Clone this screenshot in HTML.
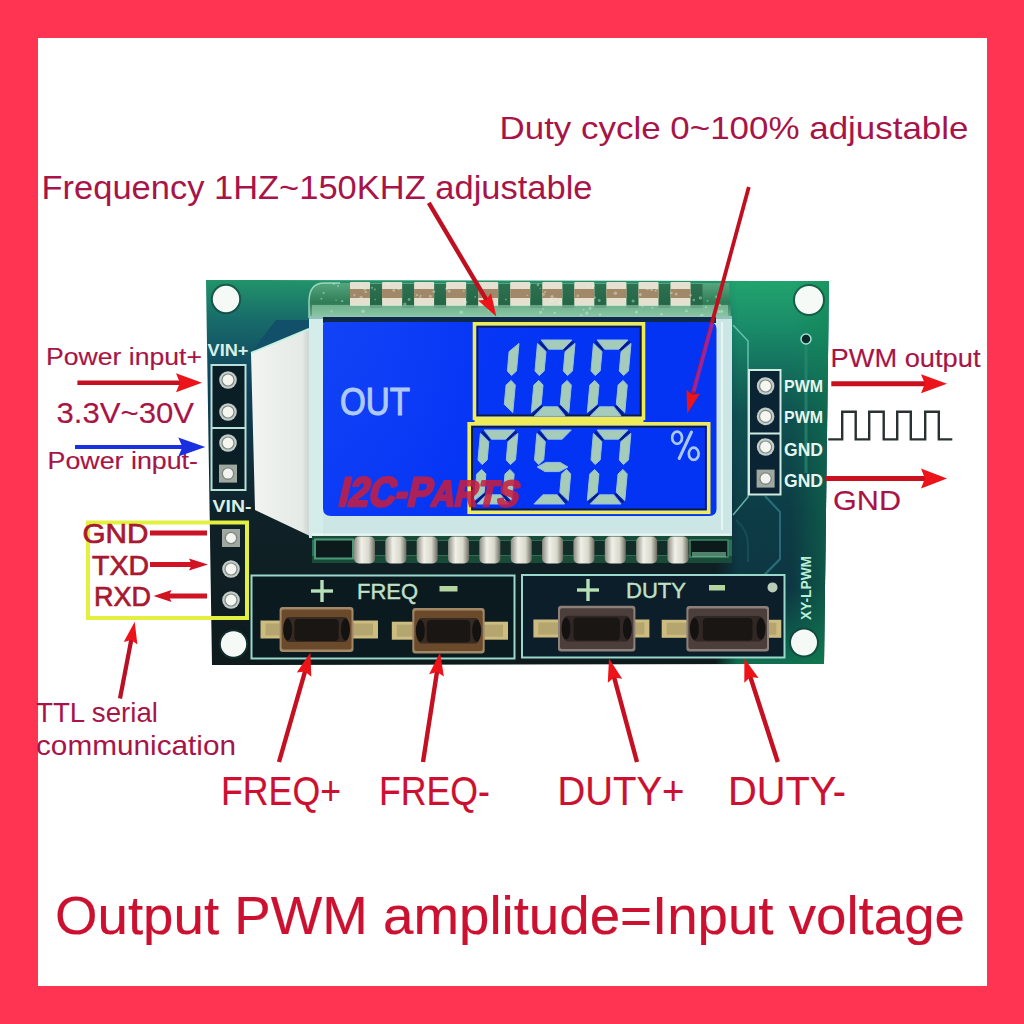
<!DOCTYPE html>
<html><head><meta charset="utf-8"><title>PWM module</title>
<style>html,body{margin:0;padding:0;background:#ff3352;} svg{display:block;} text{font-family:"Liberation Sans", sans-serif;}</style>
</head><body>
<svg width="1024" height="1024" viewBox="0 0 1024 1024">
<rect x="0" y="0" width="1024" height="1024" fill="#ff3352"/>
<rect x="38" y="38" width="949" height="948" fill="#ffffff"/>
<defs>
<linearGradient id="pcbv" x1="0" y1="280" x2="0" y2="665" gradientUnits="userSpaceOnUse">
 <stop offset="0" stop-color="#22946a"/>
 <stop offset="0.1" stop-color="#186c6a"/>
 <stop offset="0.25" stop-color="#10445e"/>
 <stop offset="0.6" stop-color="#0f2228"/>
 <stop offset="1" stop-color="#0e1a1c"/>
</linearGradient>
<linearGradient id="pcbr" x1="0" y1="280" x2="0" y2="665" gradientUnits="userSpaceOnUse">
 <stop offset="0" stop-color="#22a46e"/>
 <stop offset="0.13" stop-color="#198a68"/>
 <stop offset="0.35" stop-color="#0f5050"/>
 <stop offset="0.6" stop-color="#0d3c46"/>
 <stop offset="0.8" stop-color="#0d3642"/>
 <stop offset="0.93" stop-color="#0f5a4c"/>
 <stop offset="1" stop-color="#107050"/>
</linearGradient>
<linearGradient id="pcbedge" x1="790" y1="0" x2="829" y2="0" gradientUnits="userSpaceOnUse">
 <stop offset="0" stop-color="#10844e" stop-opacity="0"/>
 <stop offset="1" stop-color="#10844e" stop-opacity="0.45"/>
</linearGradient>
<linearGradient id="pcbrm" x1="715" y1="0" x2="829" y2="0" gradientUnits="userSpaceOnUse">
 <stop offset="0" stop-color="#000"/>
 <stop offset="0.2" stop-color="#fff"/>
 <stop offset="1" stop-color="#fff"/>
</linearGradient>
<mask id="rmask" maskUnits="userSpaceOnUse" x="0" y="0" width="1024" height="1024"><rect x="715" y="270" width="120" height="400" fill="url(#pcbrm)"/></mask>
<linearGradient id="guide" x1="251" y1="0" x2="324" y2="0" gradientUnits="userSpaceOnUse">
 <stop offset="0" stop-color="#f2f4f0"/>
 <stop offset="0.7" stop-color="#e4eae6"/>
 <stop offset="0.78" stop-color="#cfd8d4"/>
 <stop offset="1" stop-color="#d8e4e0"/>
</linearGradient>
<linearGradient id="glass" x1="0" y1="282" x2="0" y2="320" gradientUnits="userSpaceOnUse">
 <stop offset="0" stop-color="#58a880"/>
 <stop offset="0.55" stop-color="#2f7c56"/>
 <stop offset="1" stop-color="#78b894"/>
</linearGradient>
<linearGradient id="blue" x1="323" y1="0" x2="718" y2="0" gradientUnits="userSpaceOnUse">
 <stop offset="0" stop-color="#0838f4"/>
 <stop offset="0.4" stop-color="#0232f4"/>
 <stop offset="1" stop-color="#0434f2"/>
</linearGradient>
<radialGradient id="bluehl" cx="323" cy="322" r="260" gradientUnits="userSpaceOnUse">
 <stop offset="0" stop-color="#4070ff" stop-opacity="0.2"/>
 <stop offset="1" stop-color="#4070ff" stop-opacity="0"/>
</radialGradient>
<linearGradient id="pin" x1="0" y1="0" x2="1" y2="0">
 <stop offset="0" stop-color="#8a8a80"/>
 <stop offset="0.35" stop-color="#f0f0e8"/>
 <stop offset="0.7" stop-color="#d8d8cc"/>
 <stop offset="1" stop-color="#6a6a60"/>
</linearGradient>
</defs>
<polygon points="206,280 829,281 824,664 212,665" fill="url(#pcbv)"/>
<polygon points="715,281 829,281 824,664 715,664" fill="url(#pcbr)" mask="url(#rmask)"/>
<polygon points="790,281 829,281 824,664 790,664" fill="url(#pcbedge)"/>
<circle cx="226" cy="299" r="15.2" fill="#103a34" opacity="0.6"/><circle cx="226" cy="299" r="13.2" fill="#f6faf6"/>
<circle cx="809" cy="300" r="16" fill="#103a34" opacity="0.6"/><circle cx="809" cy="300" r="14" fill="#f6faf6"/>
<circle cx="233.5" cy="644" r="14.7" fill="#103a34" opacity="0.6"/><circle cx="233.5" cy="644" r="12.7" fill="#f6faf6"/>
<circle cx="804" cy="642.5" r="15" fill="#103a34" opacity="0.6"/><circle cx="804" cy="642.5" r="13" fill="#f6faf6"/>
<path d="M733,325 L748,341 L748,497 L733,515" fill="none" stroke="#7ad0c0" stroke-width="1.5" opacity="0.8"/>
<path d="M765,496 L780,512 L780,559 L750,589" fill="none" stroke="#2a7a78" stroke-width="2" opacity="0.8"/>
<path d="M806,340 L806,473" fill="none" stroke="#2a8a70" stroke-width="3" opacity="0.7"/>
<circle cx="806" cy="339" r="5" fill="#0c2a2a" stroke="#a0e0d0" stroke-width="1.5"/>
<path d="M765,496 L780,512 L780,559 L752,589" fill="none" stroke="#2a6a7a" stroke-width="2" opacity="0.6"/>
<path d="M736,520 Q748,530 748,545 L748,562" fill="none" stroke="#1a5a60" stroke-width="2" opacity="0.6"/>
<polygon points="276,320 312,320 312,328 252,352 262,338" fill="#12506a"/>
<polygon points="251,353 309,329 324,329 324,537 312,537 255,510" fill="url(#guide)"/>
<line x1="251" y1="353" x2="309" y2="329" stroke="#c8f0e0" stroke-width="2"/>
<path d="M309,302 Q309,283 324,283 L729,283 L731,318 L309,318 Z" fill="url(#glass)"/>
<path d="M309,318 L309,302 Q309,283 324,283 L340,283" fill="none" stroke="#b0e8d0" stroke-width="1.5" opacity="0.8"/>
<rect x="370.0" y="284" width="12" height="24" fill="#1f5c40" opacity="0.7"/>
<rect x="350.0" y="282" width="20" height="24" rx="1" fill="#e6e0d0"/>
<rect x="350.0" y="289" width="20" height="9" fill="#a08868"/>
<rect x="402.1" y="284" width="12" height="24" fill="#1f5c40" opacity="0.7"/>
<rect x="382.1" y="282" width="20" height="24" rx="1" fill="#e6e0d0"/>
<rect x="382.1" y="289" width="20" height="9" fill="#a08868"/>
<rect x="434.1" y="284" width="12" height="24" fill="#1f5c40" opacity="0.7"/>
<rect x="414.1" y="282" width="20" height="24" rx="1" fill="#e6e0d0"/>
<rect x="414.1" y="289" width="20" height="9" fill="#a08868"/>
<rect x="466.1" y="284" width="12" height="24" fill="#1f5c40" opacity="0.7"/>
<rect x="446.1" y="282" width="20" height="24" rx="1" fill="#e6e0d0"/>
<rect x="446.1" y="289" width="20" height="9" fill="#a08868"/>
<rect x="498.2" y="284" width="12" height="24" fill="#1f5c40" opacity="0.7"/>
<rect x="478.2" y="282" width="20" height="24" rx="1" fill="#e6e0d0"/>
<rect x="478.2" y="289" width="20" height="9" fill="#a08868"/>
<rect x="530.2" y="284" width="12" height="24" fill="#1f5c40" opacity="0.7"/>
<rect x="510.2" y="282" width="20" height="24" rx="1" fill="#e6e0d0"/>
<rect x="510.2" y="289" width="20" height="9" fill="#a08868"/>
<rect x="562.3" y="284" width="12" height="24" fill="#1f5c40" opacity="0.7"/>
<rect x="542.3" y="282" width="20" height="24" rx="1" fill="#e6e0d0"/>
<rect x="542.3" y="289" width="20" height="9" fill="#a08868"/>
<rect x="594.3" y="284" width="12" height="24" fill="#1f5c40" opacity="0.7"/>
<rect x="574.3" y="282" width="20" height="24" rx="1" fill="#e6e0d0"/>
<rect x="574.3" y="289" width="20" height="9" fill="#a08868"/>
<rect x="626.4" y="284" width="12" height="24" fill="#1f5c40" opacity="0.7"/>
<rect x="606.4" y="282" width="20" height="24" rx="1" fill="#e6e0d0"/>
<rect x="606.4" y="289" width="20" height="9" fill="#a08868"/>
<rect x="658.5" y="284" width="12" height="24" fill="#1f5c40" opacity="0.7"/>
<rect x="638.5" y="282" width="20" height="24" rx="1" fill="#e6e0d0"/>
<rect x="638.5" y="289" width="20" height="9" fill="#a08868"/>
<rect x="690.5" y="284" width="12" height="24" fill="#1f5c40" opacity="0.7"/>
<rect x="670.5" y="282" width="20" height="24" rx="1" fill="#e6e0d0"/>
<rect x="670.5" y="289" width="20" height="9" fill="#a08868"/>
<rect x="312" y="305" width="416" height="11" fill="#a8e0c0" opacity="0.5"/>
<g fill="#d8f8e0" opacity="0.4"><circle cx="446.7" cy="288.8" r="1.5"/><circle cx="342.1" cy="301.1" r="1.2"/><circle cx="336.1" cy="300.2" r="0.8"/><circle cx="492.4" cy="286.2" r="0.9"/><circle cx="488.6" cy="310.5" r="0.9"/><circle cx="404.9" cy="304.1" r="1.7"/><circle cx="552.1" cy="296.7" r="1.8"/><circle cx="331.4" cy="311.5" r="1.1"/><circle cx="372.0" cy="287.8" r="1.1"/><circle cx="651.5" cy="289.8" r="1.4"/><circle cx="577.8" cy="295.9" r="1.3"/><circle cx="338.1" cy="285.9" r="1.0"/><circle cx="595.0" cy="297.7" r="1.1"/><circle cx="555.6" cy="298.5" r="1.1"/><circle cx="642.5" cy="306.4" r="1.0"/><circle cx="551.0" cy="300.8" r="1.7"/><circle cx="615.4" cy="293.2" r="1.8"/><circle cx="361.1" cy="297.4" r="1.6"/><circle cx="375.2" cy="299.6" r="0.8"/><circle cx="590.0" cy="308.5" r="1.4"/><circle cx="676.2" cy="294.0" r="1.5"/><circle cx="559.3" cy="302.6" r="1.3"/><circle cx="661.4" cy="314.2" r="1.3"/><circle cx="588.3" cy="285.9" r="1.5"/><circle cx="581.2" cy="315.8" r="1.6"/><circle cx="430.4" cy="296.3" r="1.5"/><circle cx="321.4" cy="298.8" r="1.0"/><circle cx="360.7" cy="285.9" r="1.6"/><circle cx="365.8" cy="291.9" r="1.2"/><circle cx="674.5" cy="286.6" r="1.2"/><circle cx="540.6" cy="312.3" r="1.6"/><circle cx="671.4" cy="292.9" r="1.2"/><circle cx="461.2" cy="312.3" r="1.8"/><circle cx="374.8" cy="289.6" r="1.0"/><circle cx="409.1" cy="299.5" r="1.4"/><circle cx="421.3" cy="284.1" r="1.2"/><circle cx="465.6" cy="302.1" r="1.8"/><circle cx="599.2" cy="300.5" r="1.4"/><circle cx="593.3" cy="285.7" r="1.7"/><circle cx="636.5" cy="312.0" r="1.6"/><circle cx="475.2" cy="296.8" r="0.9"/><circle cx="575.9" cy="286.0" r="0.9"/><circle cx="398.8" cy="289.2" r="1.1"/><circle cx="333.9" cy="284.0" r="1.0"/><circle cx="354.2" cy="295.6" r="0.8"/><circle cx="675.7" cy="303.7" r="0.9"/><circle cx="416.9" cy="295.1" r="1.2"/><circle cx="363.1" cy="311.2" r="1.8"/><circle cx="505.9" cy="299.5" r="0.9"/><circle cx="354.5" cy="295.0" r="1.1"/><circle cx="656.8" cy="289.2" r="0.8"/><circle cx="707.6" cy="300.9" r="0.9"/><circle cx="538.0" cy="284.9" r="1.3"/><circle cx="719.1" cy="311.6" r="1.5"/><circle cx="420.6" cy="295.7" r="1.0"/><circle cx="633.1" cy="301.0" r="1.6"/><circle cx="449.1" cy="291.1" r="1.6"/><circle cx="721.7" cy="311.3" r="1.6"/><circle cx="652.4" cy="307.7" r="1.0"/><circle cx="527.3" cy="295.4" r="0.8"/><circle cx="323.6" cy="292.9" r="1.1"/><circle cx="600.1" cy="314.6" r="1.2"/><circle cx="701.8" cy="315.6" r="1.8"/><circle cx="463.7" cy="291.1" r="1.0"/><circle cx="393.8" cy="290.5" r="1.4"/><circle cx="686.5" cy="310.9" r="1.3"/><circle cx="583.6" cy="309.6" r="0.9"/><circle cx="586.8" cy="313.1" r="1.6"/><circle cx="624.1" cy="299.3" r="1.0"/><circle cx="640.3" cy="294.6" r="1.6"/><circle cx="716.2" cy="296.7" r="1.2"/><circle cx="705.9" cy="307.2" r="1.0"/><circle cx="364.8" cy="288.8" r="1.7"/><circle cx="647.5" cy="288.7" r="1.6"/><circle cx="719.8" cy="305.0" r="1.2"/><circle cx="540.2" cy="288.2" r="0.8"/><circle cx="715.9" cy="304.8" r="1.3"/><circle cx="700.4" cy="297.9" r="1.7"/><circle cx="655.7" cy="290.8" r="1.1"/><circle cx="433.9" cy="291.7" r="1.4"/><circle cx="419.9" cy="297.4" r="0.9"/><circle cx="690.6" cy="295.3" r="1.3"/><circle cx="554.7" cy="312.9" r="1.2"/><circle cx="693.8" cy="300.1" r="1.3"/><circle cx="529.8" cy="284.6" r="1.2"/><circle cx="388.2" cy="284.1" r="1.6"/><circle cx="383.7" cy="299.2" r="1.5"/><circle cx="543.5" cy="294.4" r="1.3"/><circle cx="543.1" cy="309.1" r="0.9"/><circle cx="545.1" cy="292.0" r="1.1"/></g>
<rect x="309" y="316" width="423" height="222" fill="#cce6e6"/>
<rect x="309" y="316" width="423" height="3" fill="#6aa8a0" opacity="0.6"/>
<rect x="323" y="317" width="393" height="6" fill="#0e2a48"/>
<path d="M326,322 L709,322 Q716.5,322 716.5,329 L716.5,509 Q716.5,516 709,516 L331,516 Q323,516 323,508 L323,325 Q323,322 326,322 Z" fill="url(#blue)"/>
<path d="M326,322 L709,322 Q716.5,322 716.5,329 L716.5,509 Q716.5,516 709,516 L331,516 Q323,516 323,508 L323,325 Q323,322 326,322 Z" fill="url(#bluehl)"/>
<rect x="309" y="319" width="14" height="218" fill="#d4ecea"/>
<line x1="722" y1="322" x2="722" y2="530" stroke="#f0fafa" stroke-width="2" opacity="0.7"/>
<line x1="312" y1="534.5" x2="730" y2="534.5" stroke="#f4fbfb" stroke-width="2" opacity="0.7"/>
<text x="340" y="415" font-family="Liberation Sans" font-size="38" fill="#aecaf4" stroke="#aecaf4" stroke-width="1.1" textLength="70" lengthAdjust="spacingAndGlyphs">OUT</text>
<rect x="474.5" y="323.8" width="169" height="94.5" fill="none" stroke="#f0ec58" stroke-width="3.6"/>
<rect x="477.5" y="326.8" width="163" height="88.5" fill="none" stroke="#0c1a40" stroke-width="1.6"/>
<rect x="469.2" y="423.8" width="239.5" height="88.5" fill="none" stroke="#f0ec58" stroke-width="3.6"/>
<rect x="472.2" y="426.8" width="233.5" height="82.5" fill="none" stroke="#0c1a40" stroke-width="1.6"/>
<rect x="474.5" y="418.5" width="169" height="5" fill="#f0ec58"/>
<g fill="#a4ccb8" stroke="#98c0e0" stroke-width="1" stroke-linejoin="round"><polygon points="519.0,343.4 516.5,371.0 511.5,375.6 507.4,371.0 509.1,351.6"/>
<polygon points="515.3,385.0 512.8,412.6 504.3,404.4 506.1,385.0 511.1,380.4"/>
<polygon points="541.2,340.0 571.9,340.0 562.9,349.2 548.6,349.2"/>
<polygon points="575.0,343.4 572.5,371.0 567.5,375.6 563.3,371.0 565.1,351.6"/>
<polygon points="571.3,385.0 568.8,412.6 560.3,404.4 562.1,385.0 567.1,380.4"/>
<polygon points="543.4,406.8 557.7,406.8 565.1,416.0 534.4,416.0"/>
<polygon points="533.8,385.0 538.8,380.4 543.0,385.0 541.2,404.4 531.3,412.6"/>
<polygon points="537.5,343.4 546.0,351.6 544.2,371.0 539.2,375.6 535.0,371.0"/>
<polygon points="597.2,340.0 627.9,340.0 618.9,349.2 604.6,349.2"/>
<polygon points="631.0,343.4 628.5,371.0 623.5,375.6 619.3,371.0 621.1,351.6"/>
<polygon points="627.3,385.0 624.8,412.6 616.3,404.4 618.1,385.0 623.1,380.4"/>
<polygon points="599.4,406.8 613.7,406.8 621.1,416.0 590.4,416.0"/>
<polygon points="589.8,385.0 594.8,380.4 599.0,385.0 597.2,404.4 587.3,412.6"/>
<polygon points="593.5,343.4 602.0,351.6 600.2,371.0 595.2,375.6 591.0,371.0"/>
<polygon points="484.1,430.0 514.8,430.0 505.7,439.2 491.4,439.2"/>
<polygon points="517.9,433.4 515.5,460.0 510.4,464.6 506.3,460.0 507.9,441.6"/>
<polygon points="514.2,474.0 511.8,500.6 503.3,492.4 505.0,474.0 510.0,469.4"/>
<polygon points="486.4,494.8 500.7,494.8 508.1,504.0 477.4,504.0"/>
<polygon points="476.7,474.0 481.7,469.4 485.9,474.0 484.2,492.4 474.3,500.6"/>
<polygon points="480.4,433.4 488.8,441.6 487.2,460.0 482.1,464.6 478.0,460.0"/>
<polygon points="540.6,430.0 571.3,430.0 562.2,439.2 547.9,439.2"/>
<polygon points="536.9,433.4 545.3,441.6 543.7,460.0 538.6,464.6 534.5,460.0"/>
<polygon points="537.2,467.0 545.8,462.4 560.1,462.4 567.9,467.0 559.3,471.6 545.0,471.6"/>
<polygon points="570.7,474.0 568.3,500.6 559.8,492.4 561.5,474.0 566.5,469.4"/>
<polygon points="542.9,494.8 557.2,494.8 564.6,504.0 533.9,504.0"/>
<polygon points="597.1,430.0 627.8,430.0 618.7,439.2 604.4,439.2"/>
<polygon points="630.9,433.4 628.5,460.0 623.4,464.6 619.3,460.0 620.9,441.6"/>
<polygon points="627.2,474.0 624.8,500.6 616.3,492.4 618.0,474.0 623.0,469.4"/>
<polygon points="599.4,494.8 613.7,494.8 621.1,504.0 590.4,504.0"/>
<polygon points="589.7,474.0 594.7,469.4 598.9,474.0 597.2,492.4 587.3,500.6"/>
<polygon points="593.4,433.4 601.8,441.6 600.2,460.0 595.1,464.6 591.0,460.0"/></g>
<g stroke="#0a1848" stroke-width="1.6"><line x1="539.2" y1="341.5" x2="547.1" y2="350.2"/><line x1="573.7" y1="341.5" x2="564.2" y2="350.2"/><line x1="532.6" y1="414.5" x2="542.1" y2="405.8"/><line x1="567.1" y1="414.5" x2="559.2" y2="405.8"/><line x1="595.2" y1="341.5" x2="603.1" y2="350.2"/><line x1="629.7" y1="341.5" x2="620.2" y2="350.2"/><line x1="588.6" y1="414.5" x2="598.1" y2="405.8"/><line x1="623.1" y1="414.5" x2="615.2" y2="405.8"/><line x1="482.0" y1="431.5" x2="489.9" y2="440.2"/><line x1="516.5" y1="431.5" x2="507.0" y2="440.2"/><line x1="475.6" y1="502.5" x2="485.1" y2="493.8"/><line x1="510.1" y1="502.5" x2="502.2" y2="493.8"/><line x1="538.5" y1="431.5" x2="546.4" y2="440.2"/><line x1="566.6" y1="502.5" x2="558.7" y2="493.8"/><line x1="595.0" y1="431.5" x2="602.9" y2="440.2"/><line x1="629.5" y1="431.5" x2="620.0" y2="440.2"/><line x1="588.6" y1="502.5" x2="598.1" y2="493.8"/><line x1="623.1" y1="502.5" x2="615.2" y2="493.8"/></g>
<g fill="none" stroke="#aac8f6" stroke-width="2.7" stroke-linecap="round"><ellipse cx="677.1" cy="437.7" rx="4.9" ry="6.1"/><ellipse cx="693.7" cy="453.8" rx="4.9" ry="6.1"/><line x1="691.5" y1="432" x2="679.2" y2="458.5" stroke-width="3"/></g>
<g transform="translate(337,506) skewX(-13)" opacity="0.86"><text x="0" y="0" font-family="Liberation Sans" font-weight="bold" fill="#c81e40" stroke="#c81e40" stroke-width="2.6" stroke-linejoin="round" textLength="180" lengthAdjust="spacingAndGlyphs"><tspan font-size="41">I2C-P</tspan><tspan font-size="36">ARTS</tspan></text></g>
<rect x="312" y="536" width="420" height="27" fill="#1a4a38"/>
<rect x="312" y="540" width="420" height="16" fill="#3a9070" opacity="0.55"/>
<rect x="315" y="539.5" width="38" height="19" fill="#0c1a1c" stroke="#4a9a78" stroke-width="2"/>
<rect x="374.5" y="541" width="11" height="14" fill="#0c1c1c" opacity="0.8"/>
<rect x="354.0" y="536.5" width="21" height="27" rx="5" fill="url(#pin)"/>
<rect x="405.9" y="541" width="11" height="14" fill="#0c1c1c" opacity="0.8"/>
<rect x="385.4" y="536.5" width="21" height="27" rx="5" fill="url(#pin)"/>
<rect x="437.2" y="541" width="11" height="14" fill="#0c1c1c" opacity="0.8"/>
<rect x="416.7" y="536.5" width="21" height="27" rx="5" fill="url(#pin)"/>
<rect x="468.6" y="541" width="11" height="14" fill="#0c1c1c" opacity="0.8"/>
<rect x="448.1" y="536.5" width="21" height="27" rx="5" fill="url(#pin)"/>
<rect x="499.9" y="541" width="11" height="14" fill="#0c1c1c" opacity="0.8"/>
<rect x="479.4" y="536.5" width="21" height="27" rx="5" fill="url(#pin)"/>
<rect x="531.2" y="541" width="11" height="14" fill="#0c1c1c" opacity="0.8"/>
<rect x="510.8" y="536.5" width="21" height="27" rx="5" fill="url(#pin)"/>
<rect x="562.6" y="541" width="11" height="14" fill="#0c1c1c" opacity="0.8"/>
<rect x="542.1" y="536.5" width="21" height="27" rx="5" fill="url(#pin)"/>
<rect x="594.0" y="541" width="11" height="14" fill="#0c1c1c" opacity="0.8"/>
<rect x="573.5" y="536.5" width="21" height="27" rx="5" fill="url(#pin)"/>
<rect x="625.3" y="541" width="11" height="14" fill="#0c1c1c" opacity="0.8"/>
<rect x="604.8" y="536.5" width="21" height="27" rx="5" fill="url(#pin)"/>
<rect x="656.7" y="541" width="11" height="14" fill="#0c1c1c" opacity="0.8"/>
<rect x="636.2" y="536.5" width="21" height="27" rx="5" fill="url(#pin)"/>
<rect x="688.0" y="541" width="11" height="14" fill="#0c1c1c" opacity="0.8"/>
<rect x="667.5" y="536.5" width="21" height="27" rx="5" fill="url(#pin)"/>
<rect x="690" y="540" width="38" height="17" fill="#0c1a1c" stroke="#3a8a68" stroke-width="1.5"/>
<rect x="692" y="552" width="34" height="5" fill="#80c8a0" opacity="0.6"/>
<rect x="251.5" y="575.5" width="263" height="83" fill="#0b1a1e" stroke="#9ad8cc" stroke-width="2"/>
<rect x="522" y="575" width="262.5" height="82.5" fill="#0c1e2a" stroke="#9ad8cc" stroke-width="2"/>
<g stroke="#b8e0b8" stroke-width="3.4"><line x1="311" y1="591" x2="333" y2="591"/><line x1="322" y1="580" x2="322" y2="602"/><line x1="577" y1="590" x2="599" y2="590"/><line x1="588" y1="579" x2="588" y2="601"/></g>
<rect x="439.5" y="586" width="18" height="5.5" fill="#b4d4a0"/>
<rect x="709" y="585" width="16" height="5.5" fill="#b4d4a0"/>
<text x="357" y="599" font-family="Liberation Sans" font-size="22.5" fill="#c0e0c8" stroke="#c0e0c8" stroke-width="0.4" textLength="61" lengthAdjust="spacingAndGlyphs">FREQ</text>
<text x="626" y="598" font-family="Liberation Sans" font-size="22.5" fill="#c0e0c8" stroke="#c0e0c8" stroke-width="0.4" textLength="60" lengthAdjust="spacingAndGlyphs">DUTY</text>
<circle cx="772.5" cy="587.4" r="5" fill="#b8ccb8"/>
<rect x="260.5" y="620.5" width="117.5" height="18" fill="#cdbc80"/><rect x="265.5" y="623.5" width="107.5" height="12" fill="#9a8a58" opacity="0.45"/><rect x="279.6" y="607" width="73.89999999999998" height="45" rx="3" fill="#a08868"/><rect x="281.6" y="609.5" width="69.89999999999998" height="40" rx="2" fill="#6a4a2a"/><rect x="285.5" y="617.0" width="62.1" height="25.0" rx="4" fill="#2a2220" opacity="0.8"/><rect x="294.4" y="619.0" width="44.3" height="22.0" rx="4" fill="#1a1614"/><ellipse cx="287.6" cy="629.5" rx="4.5" ry="11" fill="#141210"/><ellipse cx="345.5" cy="629.5" rx="4.5" ry="11" fill="#141210"/>
<rect x="391.8" y="621.7" width="116.19999999999999" height="18" fill="#cdbc80"/><rect x="396.8" y="624.7" width="106.19999999999999" height="12" fill="#9a8a58" opacity="0.45"/><rect x="412.3" y="608" width="72.39999999999998" height="45.39999999999998" rx="3" fill="#a08868"/><rect x="414.3" y="610.5" width="68.39999999999998" height="40.39999999999998" rx="2" fill="#6a4a2a"/><rect x="418.1" y="618.0" width="60.8" height="25.4" rx="4" fill="#2a2220" opacity="0.8"/><rect x="426.8" y="620.0" width="43.4" height="22.4" rx="4" fill="#1a1614"/><ellipse cx="420.3" cy="630.7" rx="4.5" ry="11" fill="#141210"/><ellipse cx="476.7" cy="630.7" rx="4.5" ry="11" fill="#141210"/>
<rect x="533.4" y="619.5" width="116.0" height="18" fill="#cdbc80"/><rect x="538.4" y="622.5" width="106.0" height="12" fill="#9a8a58" opacity="0.45"/><rect x="558" y="605.7" width="77.39999999999998" height="45.69999999999993" rx="3" fill="#8c8078"/><rect x="560" y="608.2" width="73.39999999999998" height="40.69999999999993" rx="2" fill="#4c3e3a"/><rect x="564.2" y="615.7" width="65.0" height="25.7" rx="4" fill="#2a2220" opacity="0.8"/><rect x="573.5" y="617.7" width="46.4" height="22.7" rx="4" fill="#1a1614"/><ellipse cx="566.0" cy="628.5" rx="4.5" ry="11" fill="#141210"/><ellipse cx="627.4" cy="628.5" rx="4.5" ry="11" fill="#141210"/>
<rect x="661.7" y="619.8" width="119.59999999999991" height="18" fill="#cdbc80"/><rect x="666.7" y="622.8" width="109.59999999999991" height="12" fill="#9a8a58" opacity="0.45"/><rect x="686.4" y="606" width="82.60000000000002" height="45.5" rx="3" fill="#8c8078"/><rect x="688.4" y="608.5" width="78.60000000000002" height="40.5" rx="2" fill="#4c3e3a"/><rect x="693.0" y="616.0" width="69.4" height="25.5" rx="4" fill="#2a2220" opacity="0.8"/><rect x="702.9" y="618.0" width="49.6" height="22.5" rx="4" fill="#1a1614"/><ellipse cx="694.4" cy="628.8" rx="4.5" ry="11" fill="#141210"/><ellipse cx="761.0" cy="628.8" rx="4.5" ry="11" fill="#141210"/>
<text transform="translate(810.5,620) rotate(-90)" font-family="Liberation Sans" font-weight="bold" font-size="15" fill="#b8f0d8" textLength="64" lengthAdjust="spacingAndGlyphs">XY-LPWM</text>
<rect x="211.5" y="365" width="34" height="125" fill="#0a1e26" stroke="#b8e0d8" stroke-width="2"/>
<line x1="211.5" y1="428" x2="245.5" y2="428" stroke="#b8e0d8" stroke-width="2"/>
<circle cx="228" cy="380" r="8.8" fill="#c4ccc8"/><circle cx="228" cy="380" r="6.6" fill="#7e8c88"/><circle cx="228" cy="380" r="5.4" fill="#f6f6f0"/>
<circle cx="228" cy="412" r="8.8" fill="#c4ccc8"/><circle cx="228" cy="412" r="6.6" fill="#7e8c88"/><circle cx="228" cy="412" r="5.4" fill="#f6f6f0"/>
<circle cx="228" cy="443" r="8.8" fill="#c4ccc8"/><circle cx="228" cy="443" r="6.6" fill="#7e8c88"/><circle cx="228" cy="443" r="5.4" fill="#f6f6f0"/>
<rect x="219" y="464.6" width="18" height="18" fill="#a0a8a0"/><circle cx="228" cy="473.6" r="6.3" fill="#7a8884"/><circle cx="228" cy="473.6" r="5" fill="#f4f4ee"/>
<text x="207.5" y="355.5" font-family="Liberation Sans" font-weight="bold" font-size="16.5" fill="#d8f0e8" textLength="41" lengthAdjust="spacingAndGlyphs">VIN+</text>
<text x="212.5" y="511.8" font-family="Liberation Sans" font-weight="bold" font-size="16.5" fill="#d8f0e8" textLength="39" lengthAdjust="spacingAndGlyphs">VIN-</text>
<rect x="222" y="529" width="18" height="18" fill="#a0a8a0"/><circle cx="231" cy="538" r="6.3" fill="#7a8884"/><circle cx="231" cy="538" r="5" fill="#f4f4ee"/>
<circle cx="231" cy="569" r="8.8" fill="#c4ccc8"/><circle cx="231" cy="569" r="6.6" fill="#7e8c88"/><circle cx="231" cy="569" r="5.4" fill="#f6f6f0"/>
<circle cx="231" cy="600" r="8.8" fill="#c4ccc8"/><circle cx="231" cy="600" r="6.6" fill="#7e8c88"/><circle cx="231" cy="600" r="5.4" fill="#f6f6f0"/>
<rect x="88" y="522.5" width="159" height="95.5" fill="none" stroke="#e4f040" stroke-width="4"/>
<rect x="749" y="370" width="31.5" height="124.5" fill="#0a2434" stroke="#d0ece0" stroke-width="2"/>
<line x1="749" y1="433.5" x2="780.5" y2="433.5" stroke="#d0ece0" stroke-width="2"/>
<circle cx="765.6" cy="386" r="8.8" fill="#c4ccc8"/><circle cx="765.6" cy="386" r="6.6" fill="#7e8c88"/><circle cx="765.6" cy="386" r="5.4" fill="#f6f6f0"/>
<circle cx="765.6" cy="416.4" r="8.8" fill="#c4ccc8"/><circle cx="765.6" cy="416.4" r="6.6" fill="#7e8c88"/><circle cx="765.6" cy="416.4" r="5.4" fill="#f6f6f0"/>
<circle cx="765.6" cy="447" r="8.8" fill="#c4ccc8"/><circle cx="765.6" cy="447" r="6.6" fill="#7e8c88"/><circle cx="765.6" cy="447" r="5.4" fill="#f6f6f0"/>
<rect x="756.6" y="469.6" width="18" height="18" fill="#a0a8a0"/><circle cx="765.6" cy="478.6" r="6.3" fill="#7a8884"/><circle cx="765.6" cy="478.6" r="5" fill="#f4f4ee"/>
<text x="784" y="391.5" font-family="Liberation Sans" font-weight="bold" font-size="16.5" fill="#e4f6ee" textLength="39" lengthAdjust="spacingAndGlyphs">PWM</text>
<text x="784" y="423" font-family="Liberation Sans" font-weight="bold" font-size="16.5" fill="#e4f6ee" textLength="39" lengthAdjust="spacingAndGlyphs">PWM</text>
<text x="784" y="456.4" font-family="Liberation Sans" font-weight="bold" font-size="18" fill="#e4f6ee" textLength="39" lengthAdjust="spacingAndGlyphs">GND</text>
<text x="784" y="486.5" font-family="Liberation Sans" font-weight="bold" font-size="18" fill="#e4f6ee" textLength="39" lengthAdjust="spacingAndGlyphs">GND</text>
<text x="499.5" y="139.2" font-family="Liberation Sans" font-size="31.5" fill="#a81448" textLength="469" lengthAdjust="spacingAndGlyphs">Duty cycle 0~100% adjustable</text>
<text x="41.5" y="198.6" font-family="Liberation Sans" font-size="34" fill="#a81448" textLength="551" lengthAdjust="spacingAndGlyphs">Frequency 1HZ~150KHZ adjustable</text>
<text x="46" y="364.9" font-family="Liberation Sans" font-size="23.5" fill="#a81446" stroke="#a81446" stroke-width="0.15" textLength="156" lengthAdjust="spacingAndGlyphs">Power input+</text>
<text x="56.5" y="423" font-family="Liberation Sans" font-size="29" fill="#a81446" stroke="#a81446" stroke-width="0.15" textLength="137.5" lengthAdjust="spacingAndGlyphs">3.3V~30V</text>
<text x="47.5" y="468.7" font-family="Liberation Sans" font-size="23.5" fill="#a81446" stroke="#a81446" stroke-width="0.15" textLength="150.5" lengthAdjust="spacingAndGlyphs">Power input-</text>
<text x="82.5" y="542.6" font-family="Liberation Sans" font-size="27.5" fill="#a81830" stroke="#a81830" stroke-width="0.7" textLength="66" lengthAdjust="spacingAndGlyphs">GND</text>
<text x="92" y="574.7" font-family="Liberation Sans" font-size="28" fill="#a81830" stroke="#a81830" stroke-width="0.7" textLength="57" lengthAdjust="spacingAndGlyphs">TXD</text>
<text x="94" y="606.2" font-family="Liberation Sans" font-size="28" fill="#a81830" stroke="#a81830" stroke-width="0.7" textLength="57" lengthAdjust="spacingAndGlyphs">RXD</text>
<text x="36" y="721.7" font-family="Liberation Sans" font-size="28" fill="#a81448" textLength="122" lengthAdjust="spacingAndGlyphs">TTL serial</text>
<text x="36" y="755.4" font-family="Liberation Sans" font-size="28" fill="#a81448" textLength="200" lengthAdjust="spacingAndGlyphs">communication</text>
<text x="221" y="804.6" font-family="Liberation Sans" font-size="40.5" fill="#cc1030" stroke="#cc1030" stroke-width="0.15" textLength="120" lengthAdjust="spacingAndGlyphs">FREQ+</text>
<text x="379" y="804.6" font-family="Liberation Sans" font-size="40.5" fill="#cc1030" stroke="#cc1030" stroke-width="0.15" textLength="111" lengthAdjust="spacingAndGlyphs">FREQ-</text>
<text x="557.5" y="805.3" font-family="Liberation Sans" font-size="40.5" fill="#cc1030" stroke="#cc1030" stroke-width="0.15" textLength="127" lengthAdjust="spacingAndGlyphs">DUTY+</text>
<text x="728" y="805.3" font-family="Liberation Sans" font-size="40.5" fill="#cc1030" stroke="#cc1030" stroke-width="0.15" textLength="118" lengthAdjust="spacingAndGlyphs">DUTY-</text>
<text x="55" y="934" font-family="Liberation Sans" font-size="53.5" fill="#cc1030" stroke="#cc1030" stroke-width="0.2" textLength="910" lengthAdjust="spacingAndGlyphs">Output PWM amplitude=Input voltage</text>
<text x="830.5" y="366.6" font-family="Liberation Sans" font-size="25" fill="#a81446" stroke="#a81446" stroke-width="0.15" textLength="150" lengthAdjust="spacingAndGlyphs">PWM output</text>
<text x="833" y="510.2" font-family="Liberation Sans" font-size="28.5" fill="#a81446" stroke="#a81446" stroke-width="0.15" textLength="68" lengthAdjust="spacingAndGlyphs">GND</text>
<line x1="77.4" y1="382.8" x2="181.9" y2="382.8" stroke="#c41020" stroke-width="4.4"/><polygon fill="#ec1418" points="202.0,382.8 176.0,392.3 179.9,382.8 176.0,373.3"/>
<line x1="75.0" y1="447.0" x2="184.4" y2="447.0" stroke="#1a30e0" stroke-width="4.2"/><polygon fill="#1a30e0" points="205.3,447.0 178.3,456.5 182.4,447.0 178.3,437.5"/>
<line x1="150" y1="533" x2="207" y2="533" stroke="#c81424" stroke-width="5"/>
<line x1="150.0" y1="564.5" x2="193.8" y2="564.5" stroke="#d01424" stroke-width="5"/><polygon fill="#d01424" points="208.0,564.5 189.0,570.5 191.8,564.5 189.0,558.5"/>
<line x1="207.0" y1="596.0" x2="166.8" y2="596.0" stroke="#d01424" stroke-width="5"/><polygon fill="#d01424" points="153.5,596.0 171.5,590.0 168.8,596.0 171.5,602.0"/>
<line x1="120.0" y1="698.5" x2="131.6" y2="638.1" stroke="#b81024" stroke-width="4.2"/><polygon fill="#ec1418" points="134.7,621.7 137.4,644.6 131.2,640.1 123.7,642.0"/>
<line x1="279.0" y1="762.0" x2="305.6" y2="669.5" stroke="#c41020" stroke-width="4.4"/><polygon fill="#ec1418" points="310.4,652.6 311.3,676.8 305.0,671.4 296.8,672.6"/>
<line x1="423.0" y1="762.0" x2="437.3" y2="669.9" stroke="#c41020" stroke-width="4.4"/><polygon fill="#ec1418" points="440.0,652.6 443.9,676.5 437.0,671.9 429.1,674.2"/>
<line x1="637.0" y1="762.0" x2="613.6" y2="675.4" stroke="#c41020" stroke-width="4.4"/><polygon fill="#ec1418" points="609.0,658.5 622.2,678.7 614.1,677.4 607.8,682.7"/>
<line x1="777.8" y1="762.0" x2="749.8" y2="675.2" stroke="#c41020" stroke-width="4.4"/><polygon fill="#ec1418" points="744.4,658.5 758.6,678.1 750.4,677.1 744.3,682.7"/>
<line x1="428.8" y1="202.9" x2="487.3" y2="301.4" stroke="#c01020" stroke-width="4.4"/><polygon fill="#ec1418" points="496.3,316.5 478.1,300.6 486.3,299.7 491.0,292.9"/>
<line x1="748.8" y1="187.0" x2="691.8" y2="396.9" stroke="#c01020" stroke-width="3.8"/><polygon fill="#ec1418" points="687.2,413.8 686.5,389.8 692.3,394.9 700.0,393.4"/>
<line x1="712.4" y1="323" x2="693.8" y2="391.5" stroke="#9a2498" stroke-width="3.6"/>
<line x1="831.3" y1="383.8" x2="926.9" y2="383.8" stroke="#c81020" stroke-width="5"/><polygon fill="#ec1418" points="947.0,383.8 921.0,393.3 924.9,383.8 921.0,374.3"/>
<line x1="826.0" y1="478.5" x2="926.9" y2="478.5" stroke="#c81020" stroke-width="5"/><polygon fill="#ec1418" points="947.0,478.5 921.0,488.5 924.9,478.5 921.0,468.5"/>
<path d="M828.2,439.4 L842.2,439.4 L842.2,411.7 L855.7,411.7 L855.7,439.4 L869.2,439.4 L869.2,411.7 L883.7,411.7 L883.7,439.4 L897.2,439.4 L897.2,411.7 L910.8,411.7 L910.8,439.4 L925.2,439.4 L925.2,411.7 L938.8,411.7 L938.8,439.4 L952.3,439.4 " fill="none" stroke="#283030" stroke-width="2.4"/>
</svg>
</body></html>
